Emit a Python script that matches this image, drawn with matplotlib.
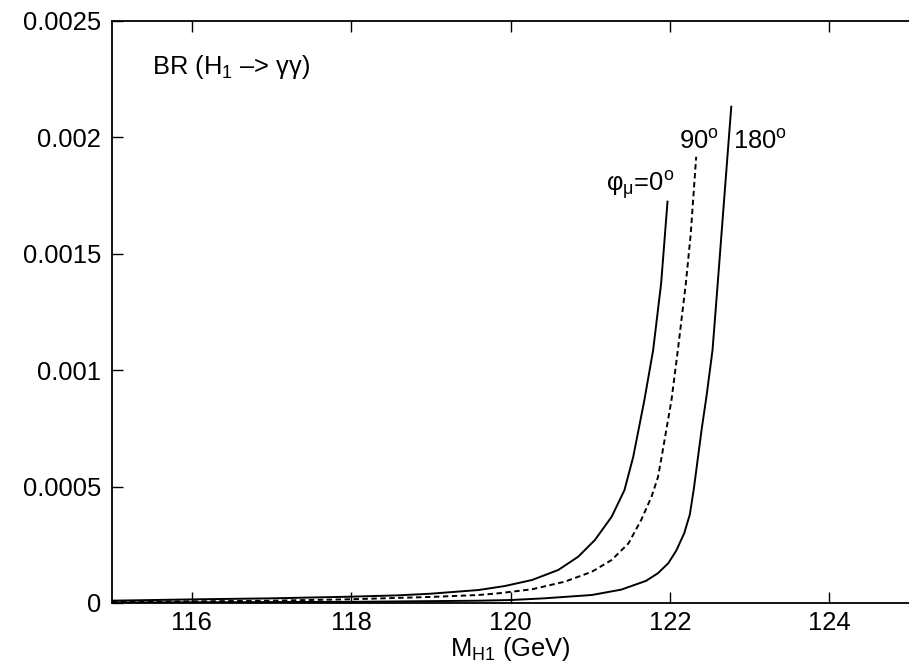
import matplotlib
matplotlib.use("Agg")
import matplotlib.pyplot as plt

plt.rcParams['font.family'] = ['Liberation Sans', 'DejaVu Sans']
plt.rcParams['mathtext.fontset'] = 'custom'
plt.rcParams['mathtext.rm'] = 'Liberation Sans'
plt.rcParams['mathtext.it'] = 'Liberation Sans:italic'
plt.rcParams['mathtext.sf'] = 'Liberation Sans'

# phi_mu = 0 deg
x0 = [115.0, 116.1, 117.0, 117.98, 118.6, 119.0, 119.6, 119.93, 120.27, 120.6, 120.85, 121.06,
      121.27, 121.43, 121.54, 121.61, 121.68, 121.79, 121.89, 121.97]
y0 = [0.000010, 0.000016, 0.000020, 0.000027, 0.000033, 0.000040, 0.0000558, 0.000073, 0.0000988,
      0.000142, 0.000199, 0.000271, 0.000371, 0.000485, 0.000628, 0.000750, 0.000872, 0.001087,
      0.001373, 0.001724]
# phi_mu = 90 deg
x90 = [115.0, 116.1, 117.0, 117.98, 119.0, 119.6, 119.85, 120.27, 120.68, 121.02, 121.27, 121.48,
       121.64, 121.77, 121.85, 121.90, 122.02, 122.10, 122.20, 122.26, 122.33]
y90 = [0.000005, 0.0000073, 0.000010, 0.0000159, 0.000026, 0.0000344, 0.0000417, 0.0000589,
       0.0000915, 0.000134, 0.000185, 0.000256, 0.000357, 0.000457, 0.000540, 0.000635, 0.000872,
       0.001087, 0.001373, 0.001580, 0.001917]
# phi_mu = 180 deg
x180 = [115.0, 116.0, 117.0, 118.0, 119.0, 119.6, 120.01, 120.43, 121.02, 121.39, 121.70, 121.85,
        121.98, 122.08, 122.18, 122.25, 122.30, 122.35, 122.40, 122.46, 122.535, 122.60, 122.68, 122.77]
y180 = [0.000002, 0.000003, 0.000004, 0.000005, 0.000008, 0.0000099, 0.0000129, 0.0000202,
        0.0000344, 0.0000575, 0.000095, 0.000128, 0.000171, 0.000225, 0.000300, 0.000380, 0.000490,
        0.000620, 0.000750, 0.000890, 0.001087, 0.001373, 0.001731, 0.002132]

xticks = [116, 118, 120, 122, 124]
yticks = [0, 0.0005, 0.001, 0.0015, 0.002, 0.0025]
yticklabels = ['0', '0.0005', '0.001', '0.0015', '0.002', '0.0025']

fs = 18.4
fig = plt.figure(figsize=(9.09, 6.67), dpi=100)
ax = fig.add_axes([112/909, 64/667, 1 - 112/909, (603-21)/667])

lw = 1.4
ax.plot(x0, y0, color='black', lw=lw)
ax.plot(x90, y90, color='black', lw=lw, dashes=(2.8, 1.8))
ax.plot(x180, y180, color='black', lw=lw)

ax.set_xlim(115, 125)
ax.set_ylim(0, 0.0025)
ax.set_xticks(xticks)
ax.set_yticks(yticks)
ax.set_yticklabels(yticklabels)
ax.tick_params(direction='in', length=8, width=1.0, labelsize=fs, top=True, right=False)
ax.tick_params(axis='x', pad=6)
ax.tick_params(axis='y', pad=8)
for s in ['left', 'bottom', 'top']:
    ax.spines[s].set_linewidth(1.3)
ax.spines['right'].set_visible(False)

ax.set_xlabel(r'M$_{\rm H1}$ (GeV)', fontsize=fs, labelpad=0)

ax.text(115.5, 0.002272, r'BR (H$_{\rm 1}$ –> γγ)', fontsize=fs, va='baseline', ha='left')
ax.text(122.06, 0.001767, r'φ$_{\rm μ}$=0$^{\rm o}$', fontsize=fs, ha='right', va='baseline')
ax.text(122.11, 0.001953, r'90$^{\rm o}$', fontsize=fs, ha='left', va='baseline')
ax.text(122.79, 0.001953, r'180$^{\rm o}$', fontsize=fs, ha='left', va='baseline')

fig.savefig('out.png', dpi=100)
